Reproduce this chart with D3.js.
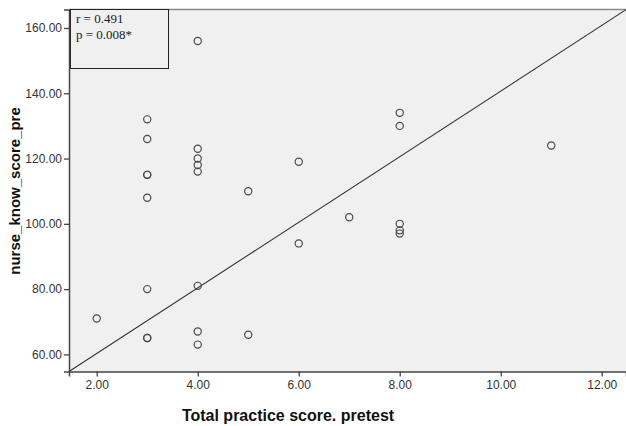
<!DOCTYPE html>
<html>
<head>
<meta charset="utf-8">
<script src="https://cdn.jsdelivr.net/npm/d3@7"></script>
<style>
  body { margin: 0; background: #fff; }
  svg { display: block; }
</style>
</head>
<body>
<div id="chart"></div>
<script>
// Practice score (x) and knowledge score (y), one entry per nurse
var practiceScore = [2, 3, 3, 3, 3, 3, 3, 3, 3, 4, 4, 4, 4, 4, 4, 4, 4, 5, 5, 6, 6, 7, 8, 8, 8, 8, 8, 11];
var knowScore = [71, 132, 126, 115, 115, 108, 80, 65, 65, 156, 123, 120, 118, 116, 81, 67, 63, 110, 66, 119, 94, 102, 134, 130, 100, 98, 97, 124];

var xTicks = [2, 4, 6, 8, 10, 12];
var yTicks = [60, 80, 100, 120, 140, 160];

// Line drawn on the chart: intercept, slope
var fitLine = [40.18, 10.05];
var statLines = ["r = 0.491", "p = 0.008*"];

var width = 626, height = 426;
var margin = { top: 9.5, right: 0, bottom: 54.5, left: 69 };

var svg = d3.select("#chart").append("svg")
    .attr("width", width)
    .attr("height", height);

var x = d3.scaleLinear()
    .domain([1.451, 12.48])
    .range([margin.left, width - margin.right]);

var y = d3.scaleLinear()
    .domain([54.76, 165.66])
    .range([height - margin.bottom, margin.top]);

// plot background
svg.append("rect")
    .attr("x", margin.left)
    .attr("y", margin.top)
    .attr("width", width - margin.left - margin.right)
    .attr("height", height - margin.top - margin.bottom)
    .attr("fill", "#f0f0f0");

// top border
svg.append("line")
    .attr("x1", margin.left).attr("x2", width)
    .attr("y1", margin.top).attr("y2", margin.top)
    .attr("stroke", "#8a8a8a")
    .attr("stroke-width", 1.5);

// the line
var line = d3.line()
    .x(function(d) { return x(d); })
    .y(function(d) { return y(fitLine[0] + fitLine[1] * d); });

svg.append("path")
    .datum(x.domain())
    .attr("d", line)
    .attr("fill", "none")
    .attr("stroke", "#333")
    .attr("stroke-width", 1.1);

// points
svg.append("g")
    .selectAll("circle")
    .data(practiceScore)
    .enter().append("circle")
    .attr("cx", function(d) { return x(d); })
    .attr("cy", function(d, i) { return y(knowScore[i]); })
    .attr("r", 3.6)
    .attr("fill", "none")
    .attr("stroke", "#4a4a4a")
    .attr("stroke-width", 1.2);

// stats box
var box = svg.append("g");
box.append("rect")
    .attr("x", 70.5)
    .attr("y", 9.5)
    .attr("width", 98)
    .attr("height", 59)
    .attr("fill", "#f0f0f0")
    .attr("stroke", "#222")
    .attr("stroke-width", 1);

box.selectAll("text")
    .data(statLines)
    .enter().append("text")
    .attr("x", 76)
    .attr("y", function(d, i) { return 23 + i * 16; })
    .attr("font-family", "'Liberation Serif', 'Times New Roman', serif")
    .attr("font-size", "13px")
    .attr("fill", "#1a1a2a")
    .text(function(d) { return d; });

// axes
var xAxis = d3.axisBottom(x)
    .tickValues(xTicks)
    .tickFormat(d3.format(".2f"))
    .tickSizeOuter(0)
    .tickSize(5)
    .tickPadding(4);

var yAxis = d3.axisLeft(y)
    .tickValues(yTicks)
    .tickFormat(d3.format(".2f"))
    .tickSizeOuter(0)
    .tickSize(5)
    .tickPadding(2);

var gx = svg.append("g")
    .attr("transform", "translate(0," + (height - margin.bottom) + ")")
    .call(xAxis);

var gy = svg.append("g")
    .attr("transform", "translate(" + margin.left + ",0)")
    .call(yAxis);

[gx, gy].forEach(function(g) {
    g.select(".domain").attr("stroke", "#444").attr("stroke-width", 1.5);
    g.selectAll(".tick line").attr("stroke", "#444").attr("stroke-width", 1.3);
    g.selectAll(".tick text")
        .attr("fill", "#333")
        .attr("font-family", "'Liberation Sans', Arial, sans-serif")
        .attr("font-size", "12px");
});

// axis titles
svg.append("text")
    .attr("x", 288)
    .attr("y", 421)
    .attr("text-anchor", "middle")
    .attr("font-family", "'Liberation Sans', Arial, sans-serif")
    .attr("font-weight", "bold")
    .attr("font-size", "16px")
    .attr("fill", "#111")
    .text("Total practice score. pretest");

svg.append("text")
    .attr("transform", "translate(19.5,191) rotate(-90)")
    .attr("text-anchor", "middle")
    .attr("font-family", "'Liberation Sans', Arial, sans-serif")
    .attr("font-weight", "bold")
    .attr("font-size", "15px")
    .attr("fill", "#111")
    .text("nurse_know_score_pre");
</script>
</body>
</html>
